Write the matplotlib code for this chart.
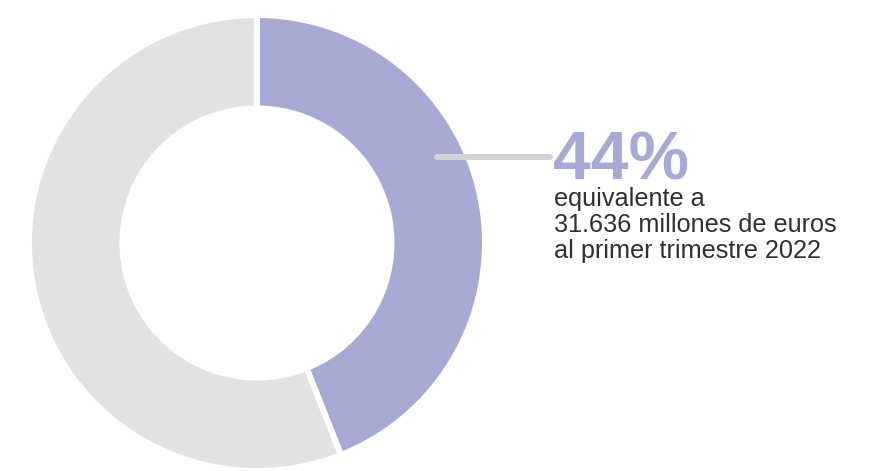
import matplotlib.pyplot as plt
from matplotlib.lines import Line2D

# data
labels = ["Cuota", "Resto"]
shares = [44, 56]
colors = ["#a8aad6", "#e1e2e4"]
headline = "44%"
caption = ["equivalente a", "31.636 millones de euros", "al primer trimestre 2022"]

W, H = 881, 471
fig = plt.figure(figsize=(W / 100, H / 100), dpi=100)
fig.patch.set_facecolor("white")

# donut centred at (257, 243) px from top-left, outer radius 228 px
cx, cy, r = 257, 243, 228
ax = fig.add_axes([(cx - r) / W, (H - cy - r) / H, 2 * r / W, 2 * r / H])
ax.pie(
    shares,
    colors=colors,
    startangle=90,
    counterclock=False,
    radius=1.0,
    wedgeprops=dict(width=0.41, edgecolor="white", linewidth=4.3),
)
ax.set_xlim(-1, 1)
ax.set_ylim(-1, 1)
ax.set_aspect("equal")
ax.axis("off")

# leader line
y_line = 1 - 157 / H
fig.add_artist(Line2D([437 / W, 550 / W], [y_line, y_line], transform=fig.transFigure,
                      color="#d3d5d5", lw=4.3, solid_capstyle="round"))

x_txt = 553 / W
fig.text(x_txt, 1 - 179 / H, headline, fontsize=49, weight="bold",
         color=colors[0], family="Liberation Sans", va="baseline", ha="left")
for i, line in enumerate(caption):
    fig.text(x_txt + 1 / W, 1 - (206 + 26 * i) / H, line, fontsize=18.2,
             color="#303030", family="Liberation Sans", va="baseline", ha="left")

fig.savefig("out.png", dpi=100)
